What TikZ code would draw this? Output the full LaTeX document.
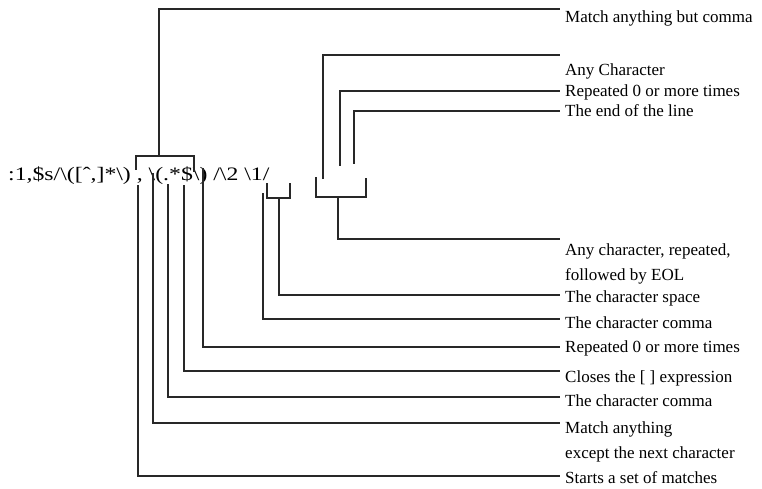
\documentclass[tikz,border=0pt]{standalone}
\usepackage{fontspec}
\setmainfont{Liberation Serif}
\newfontfamily\exprfont[FakeStretch=1.25]{Liberation Serif}
\usepackage{tikz}
\usetikzlibrary{positioning}
\definecolor{leadgray}{RGB}{40,40,40}
\tikzset{
  leadline/.style={
    draw=leadgray, line width=1.5pt, line cap=butt, line join=miter
  },
  notelabel/.style={
    anchor=base west, inner sep=0pt, align=left,
    font=\fontsize{17}{25}\selectfont
  },
  exprtext/.style={
    anchor=base west, inner sep=0pt,
    font=\exprfont\fontsize{19}{22}\selectfont
  },
}

\begin{document}
\begin{tikzpicture}[x=1pt, y=-1pt]

  \useasboundingbox (0,0) rectangle (762,489);

  %% The sed command
  \node[exprtext] (expr) at (8,180)
    {:1,\$s/\textbackslash([ˆ,]*\textbackslash) , \textbackslash(.*\$\textbackslash) /\textbackslash2 \textbackslash1/};

  %% Labels (two-line ones sit on their last line)
  \node[notelabel] (mbc) at (565,23) {Match anything but comma};
  \node[notelabel] (anych) at (565,76) {Any Character};
  \node[notelabel] (repa) at (565,97) {Repeated 0 or more times};
  \node[notelabel] (eol) at (565,117) {The end of the line};
  \node[notelabel] (anyrep) at (565,280) {Any character, repeated,\\followed by EOL};
  \node[notelabel] (space) at (565,302) {The character space};
  \node[notelabel] (comma) at (565,328) {The character comma};
  \node[notelabel] (repb) at (565,352) {Repeated 0 or more times};
  \node[notelabel] (closes) at (565,382) {Closes the [ ] expression};
  \node[notelabel] (commb) at (565,406) {The character comma};
  \node[notelabel] (mexc) at (565,458) {Match anything\\except the next character};
  \node[notelabel] (starts) at (565,483) {Starts a set of matches};

  %% Leader ends, just left of each label
  \coordinate (mbcend) at (560,9);
  \coordinate (anychend) at (560,55);
  \coordinate (repaend) at (560,91);
  \coordinate (eolend) at (560,111);
  \coordinate (anyrepend) at (560,239);
  \coordinate (spaceend) at (560,295);
  \coordinate (commaend) at (560,319);
  \coordinate (repbend) at (560,347);
  \coordinate (closesend) at (560,371);
  \coordinate (commbend) at (560,397);
  \coordinate (mexcend) at (560,423);
  \coordinate (startsend) at (560,476);

  %% Bracket over [^,]* group
  \draw[leadline] (136,170) -- (136,156) -- (194,156) -- (194,172);
  \draw[leadline] (159,156) |- (mbcend);

  %% Bracket under .*$
  \draw[leadline] (316,177) -- (316,197) -- (366,197) -- (366,178);
  \draw[leadline] (338,197) |- (anyrepend);
  \draw[leadline] (323,179) |- (anychend);
  \draw[leadline] (340,166) |- (repaend);
  \draw[leadline] (354,164) |- (eolend);

  %% Small bracket for the space
  \draw[leadline] (267,183) -- (267,198) -- (290,198) -- (290,183);
  \draw[leadline] (279,198) |- (spaceend);
  \draw[leadline] (263,193) |- (commaend);

  %% Leaders from under the expression
  \draw[leadline] (203,168) |- (repbend);
  \draw[leadline] (184,185) |- (closesend);
  \draw[leadline] (168,184) |- (commbend);
  \draw[leadline] (153,173) |- (mexcend);
  \draw[leadline] (138,185) |- (startsend);

\end{tikzpicture}
\end{document}
